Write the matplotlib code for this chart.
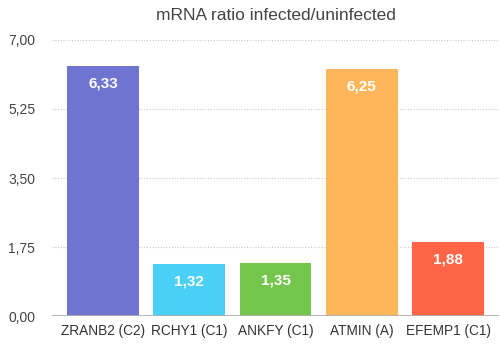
import matplotlib
matplotlib.use("Agg")
import matplotlib.pyplot as plt

plt.rcParams['font.family'] = ['Liberation Sans', 'DejaVu Sans']

genes = ["ZRANB2 (C2)", "RCHY1 (C1)", "ANKFY (C1)", "ATMIN (A)", "EFEMP1 (C1)"]
ratios = [6.33, 1.32, 1.35, 6.25, 1.88]
colors = ["#6F74D0", "#4ACFF6", "#74C54C", "#FFB65B", "#FF6546"]
yticks = [0, 1.75, 3.5, 5.25, 7.0]

fig = plt.figure(figsize=(5.0, 3.47), dpi=100)
ax = fig.add_axes([0.104, 0.089, 0.894, 0.796])

x = range(len(genes))
bars = ax.bar(x, ratios, width=0.83, color=colors, zorder=3)

for xi, v in zip(x, ratios):
    ax.text(xi, v - 0.26, f"{v:.2f}".replace(".", ","), ha="center", va="top",
            color="white", fontsize=11, fontweight="bold", zorder=4)

ax.set_xlim(-0.59, 4.59)
ax.set_ylim(0, 7)
ax.set_yticks(yticks)
ax.set_yticklabels([f"{t:.2f}".replace(".", ",") for t in yticks], fontsize=10, color="#444444")
ax.set_xticks(list(x))
ax.set_xticklabels(genes, fontsize=9.8, color="#333333")
ax.tick_params(length=0, pad=12)
ax.tick_params(axis="x", pad=6)

for t in yticks[1:]:
    ax.axhline(t, color="#c8c8c8", lw=0.8, ls=(0, (1, 1.5)), zorder=1)
ax.axhline(0, color="#b0b0b0", lw=1.3, zorder=5)

for s in ax.spines.values():
    s.set_visible(False)

fig.text(0.552, 0.955, "mRNA ratio infected/uninfected", ha="center", va="center",
         fontsize=12.5, color="#444444")

fig.savefig("out.png", dpi=100)
